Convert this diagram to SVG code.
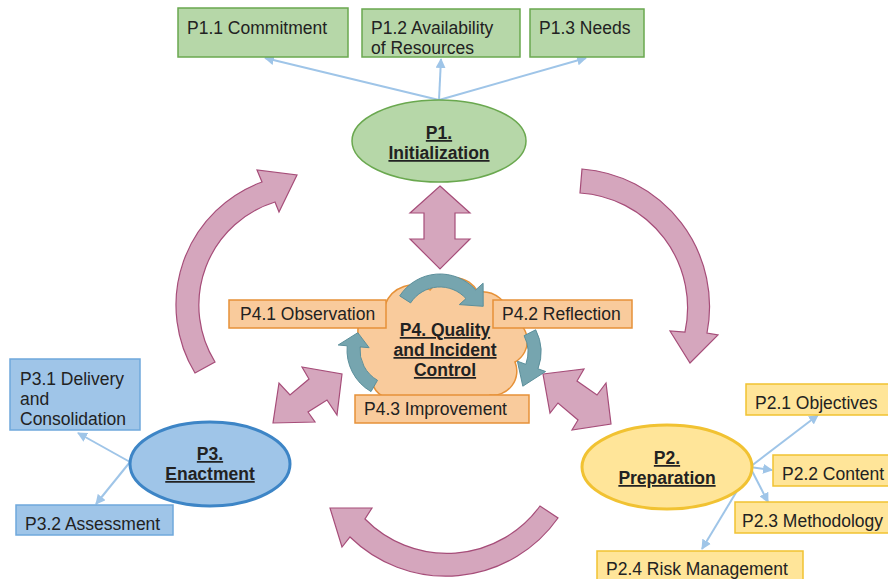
<svg xmlns="http://www.w3.org/2000/svg" width="888" height="579" viewBox="0 0 888 579">
<defs>
<marker id="ah" viewBox="0 0 10 10" refX="9" refY="5" markerWidth="10" markerHeight="10" markerUnits="userSpaceOnUse" orient="auto">
<path d="M0,0 L10,5 L0,10 z" fill="#9fc5e8"/>
</marker>
<style>
text{font-family:"Liberation Sans",Arial,sans-serif;font-size:17.5px;fill:#222}
.b{font-weight:bold;text-decoration:underline;text-anchor:middle}
.g{fill:#b6d7a8;stroke:#6aa84f;stroke-width:1.5}
.bl{fill:#9fc5e8;stroke:#6fa8dc;stroke-width:1.5}
.y{fill:#ffe599;stroke:#f1c232;stroke-width:1.5}
.o{fill:#f9cb9c;stroke:#e69138;stroke-width:1.5}
.pk{fill:#d5a6bd;stroke:#a64d79;stroke-width:1.2}
.tl{fill:#76a5af;stroke:#5b8f9b;stroke-width:1}
.c{stroke:#9fc5e8;stroke-width:2;fill:none;marker-end:url(#ah)}
</style>
</defs>
<g id="cycle-arrows">
<path class="pk" d="M195,373 A131,131 0 0,1 262,182 L257,170 L297,175 L279,212 L275,202 A108,108 0 0,0 215,362 Z"/>
<path class="pk" d="M582,169 A138,138 0 0,1 707,333 L718,335 L690,363 L670,331 L685,332 A115,115 0 0,0 580,193 Z"/>
<path class="pk" d="M558,518 A137,137 0 0,1 350,537 L342,547 L330,508 L372,508 L365,519 A115,115 0 0,0 540,506 Z"/>
<path class="pk" d="M440,186 L470,213 L455,213 L455,239 L470,239 L440,269 L410,239 L424,239 L424,213 L410,213 Z"/>
<path class="pk" d="M342,374 L337,415 L327,400 L308,412 L315,422 L273,423 L279,383 L290,395 L309,379 L302,367 Z"/>
<path class="pk" d="M543,374 L584,369 L577,381 L597,395 L606,383 L611,424 L572,430 L578,420 L558,403 L550,413 Z"/>
</g>
<g id="connectors">
<line class="c" x1="439" y1="100" x2="265" y2="58"/>
<line class="c" x1="439" y1="100" x2="441" y2="59"/>
<line class="c" x1="439" y1="100" x2="586" y2="58"/>
<line class="c" x1="130" y1="462" x2="78" y2="433"/>
<line class="c" x1="130" y1="462" x2="96" y2="504"/>
<line class="c" x1="750" y1="467" x2="818" y2="415"/>
<line class="c" x1="750" y1="467" x2="772" y2="470"/>
<line class="c" x1="750" y1="467" x2="768" y2="502"/>
<line class="c" x1="752" y1="466" x2="702" y2="549"/>
</g>
<g id="p1">
<ellipse class="g" cx="439" cy="141" rx="87" ry="41"/>
<text class="b" x="439" y="139">P1.</text>
<text class="b" x="439" y="159">Initialization</text>
</g>
<g id="p1-1"><rect class="g" x="178" y="8" width="170" height="49"/><text x="187" y="34">P1.1 Commitment</text></g>
<g id="p1-2"><rect class="g" x="362" y="9" width="158" height="48"/><text x="371" y="34">P1.2 Availability</text><text x="371" y="54">of Resources</text></g>
<g id="p1-3"><rect class="g" x="530" y="9" width="114" height="48"/><text x="539" y="34">P1.3 Needs</text></g>
<g id="p4">
<path class="o" d="M372,382 A22,22 0 0,1 362,345 A26,26 0 0,1 385,305 A30,30 0 0,1 430,290 A28,28 0 0,1 478,292 A28,28 0 0,1 510,318 A24,24 0 0,1 515,362 A24,24 0 0,1 490,395 A28,28 0 0,1 445,402 A26,26 0 0,1 400,398 A22,22 0 0,1 372,382 Z"/>
<path class="tl" d="M399.7,295.9 A48,48 0 0,1 475.7,289.9 L483.1,283.2 L483.2,306.3 L459.3,304.6 L466,298.6 A35,35 0 0,0 410.6,302.9 Z"/>
<path class="tl" d="M535.7,329.8 A49,49 0 0,1 538,368.8 L545.6,371.5 L522.8,386.2 L517.4,361.2 L525.8,364.3 A36,36 0 0,0 524.1,335.7 Z"/>
<path class="tl" d="M371,391.6 A48,48 0 0,1 347.2,345.8 L338.2,345 L357.8,332.7 L369.1,347.7 L360.1,346.9 A35,35 0 0,0 377.5,380.3 Z"/>
<text class="b" x="445" y="336">P4. Quality</text>
<text class="b" x="445" y="356">and Incident</text>
<text class="b" x="445" y="376">Control</text>
</g>
<g id="p4-1"><rect class="o" x="229" y="300" width="157" height="28"/><text x="240" y="320">P4.1 Observation</text></g>
<g id="p4-2"><rect class="o" x="493" y="300" width="139" height="28"/><text x="502" y="320">P4.2 Reflection</text></g>
<g id="p4-3"><rect class="o" x="355" y="395" width="174" height="28"/><text x="364" y="415">P4.3 Improvement</text></g>
<g id="p3">
<ellipse cx="210" cy="464" rx="80" ry="42" fill="#9fc5e8" stroke="#3d85c6" stroke-width="3"/>
<text class="b" x="210" y="460">P3.</text>
<text class="b" x="210" y="480">Enactment</text>
</g>
<g id="p3-1"><rect class="bl" x="10" y="359" width="130" height="71"/><text x="20" y="385">P3.1 Delivery</text><text x="20" y="405">and</text><text x="20" y="425">Consolidation</text></g>
<g id="p3-2"><rect class="bl" x="16" y="505" width="157" height="30"/><text x="25" y="530">P3.2 Assessment</text></g>
<g id="p2">
<ellipse cx="667" cy="467" rx="85" ry="42" fill="#ffe599" stroke="#f1c232" stroke-width="3"/>
<text class="b" x="667" y="464">P2.</text>
<text class="b" x="667" y="484">Preparation</text>
</g>
<g id="p2-1"><rect class="y" x="746" y="384" width="144" height="31"/><text x="755" y="409">P2.1 Objectives</text></g>
<g id="p2-2"><rect class="y" x="773" y="455" width="117" height="31"/><text x="782" y="480">P2.2 Content</text></g>
<g id="p2-3"><rect class="y" x="735" y="502" width="155" height="31"/><text x="742" y="527">P2.3 Methodology</text></g>
<g id="p2-4"><rect class="y" x="597" y="551" width="206" height="40"/><text x="606" y="575">P2.4 Risk Management</text></g>
</svg>
